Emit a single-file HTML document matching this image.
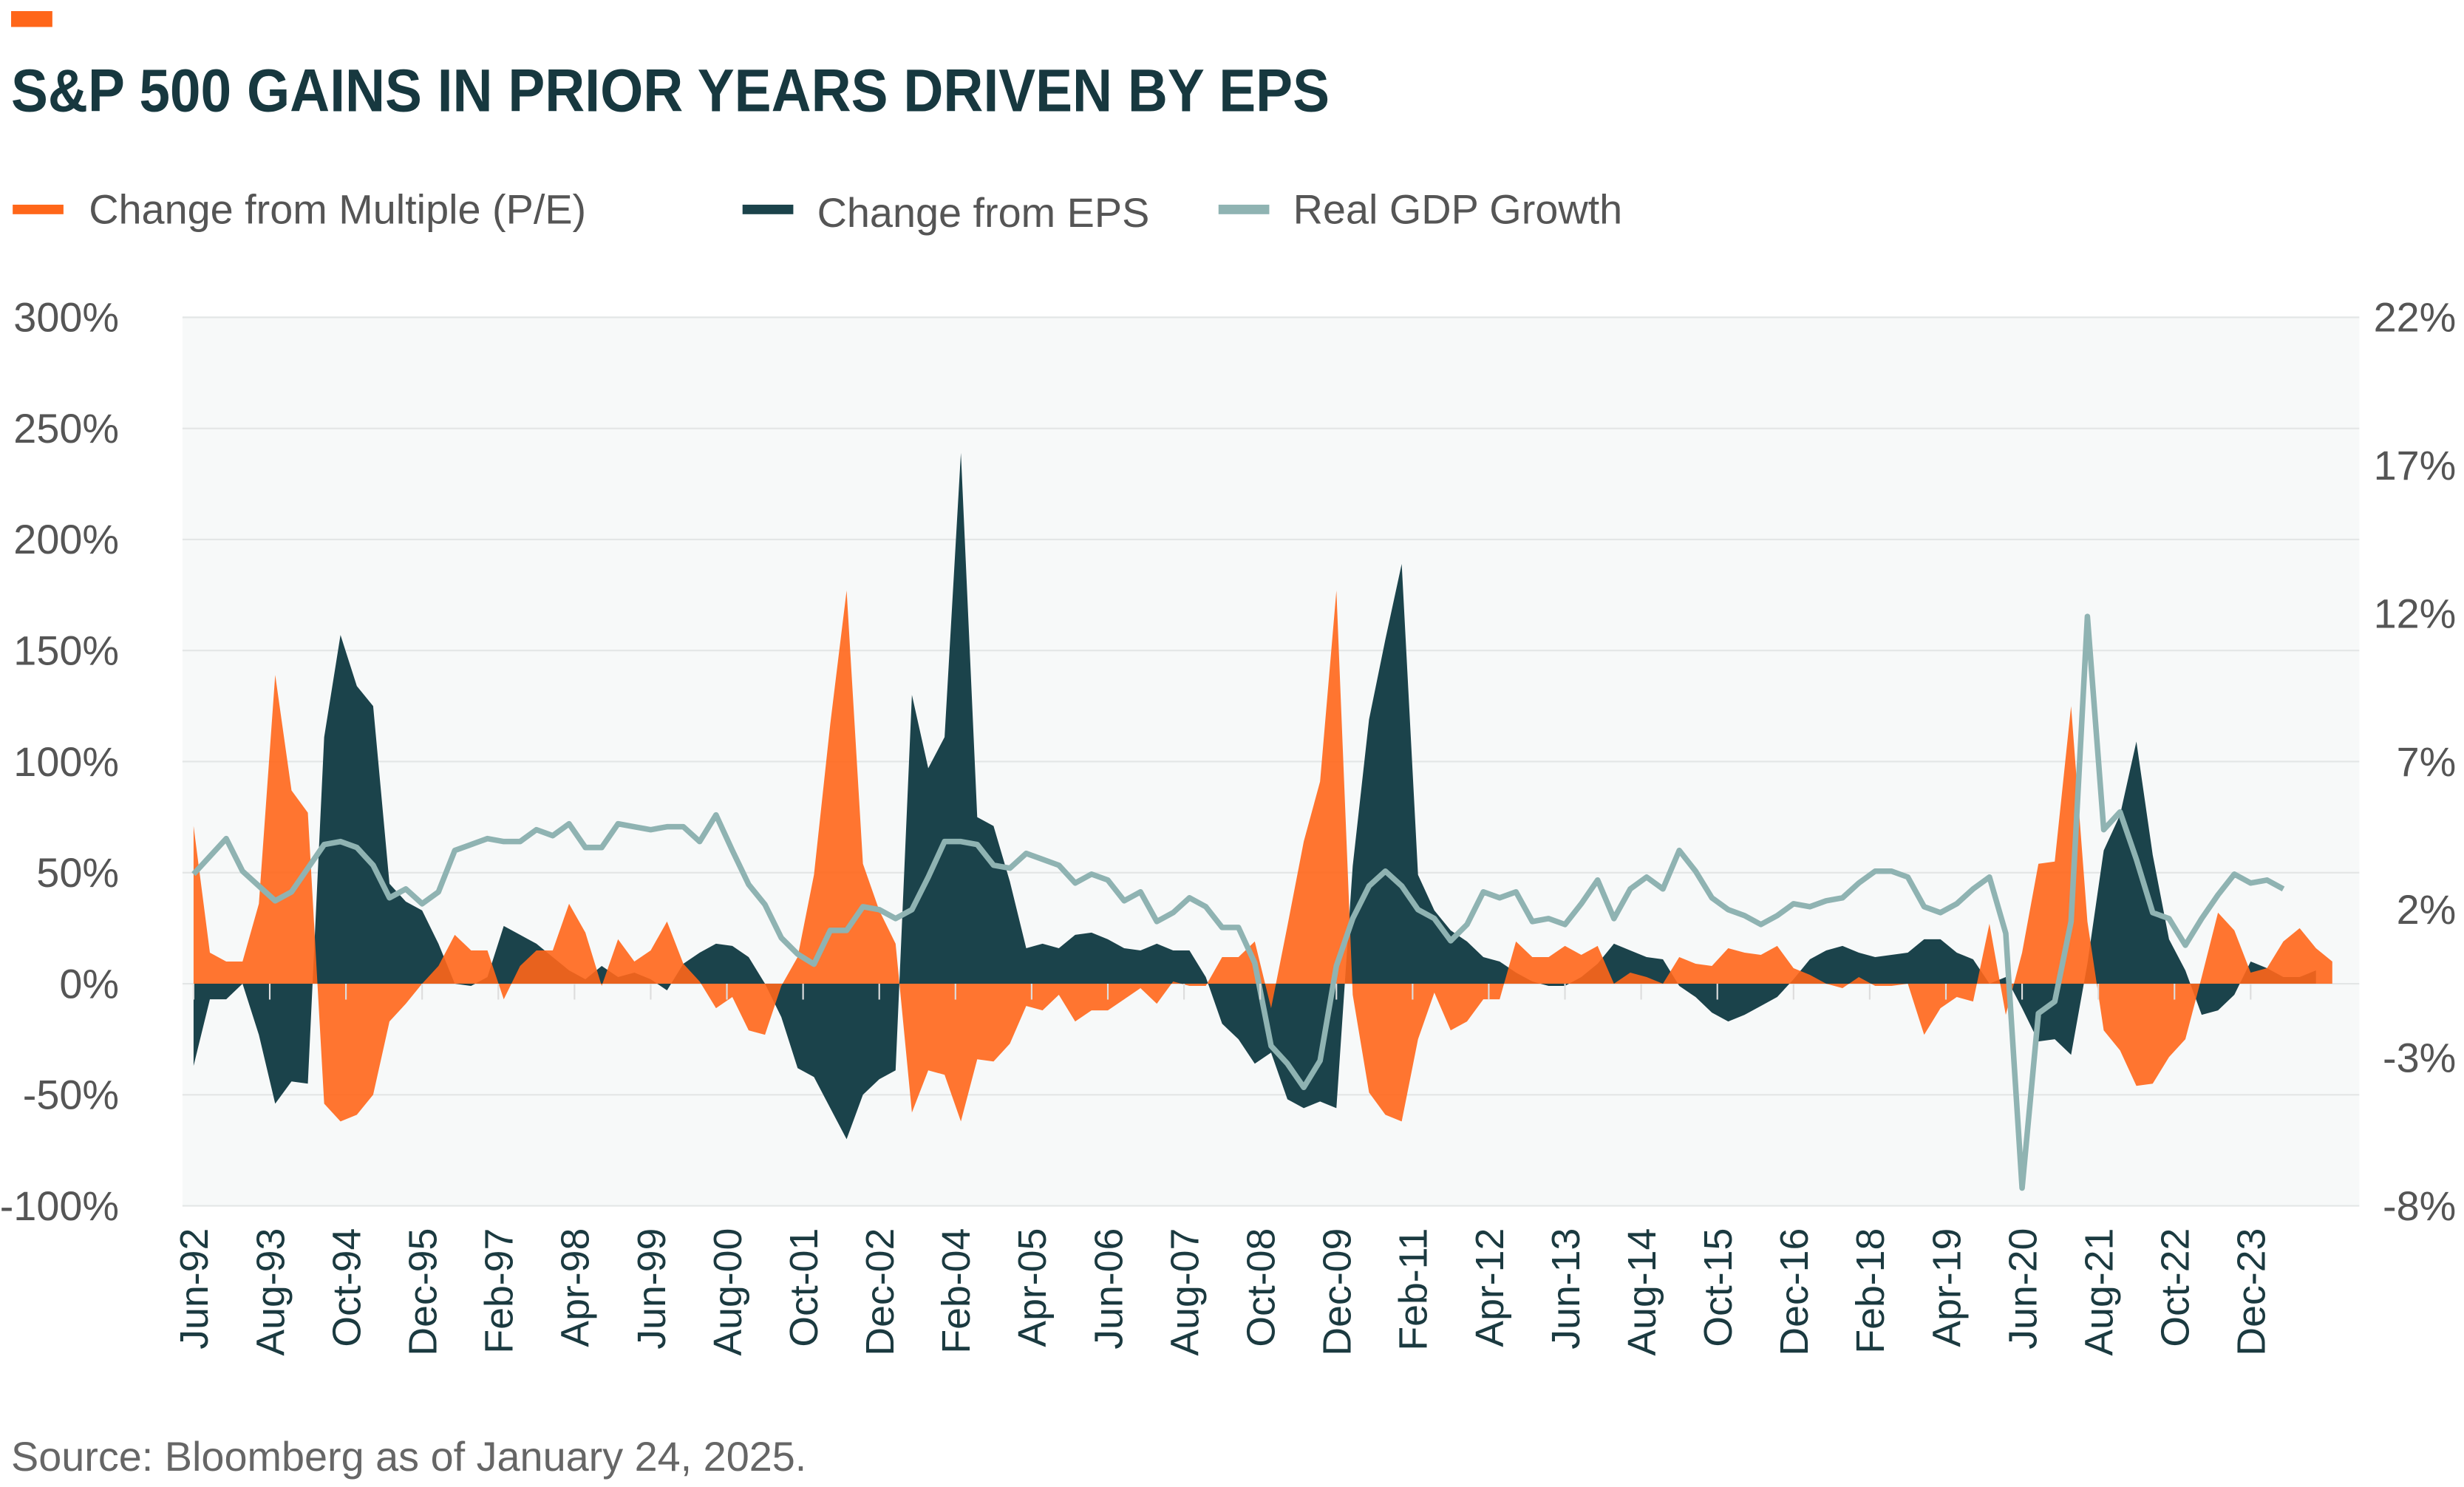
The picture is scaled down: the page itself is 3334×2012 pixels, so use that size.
<!DOCTYPE html>
<html><head><meta charset="utf-8">
<style>
html,body{margin:0;padding:0;background:#fff;}
svg{display:block;}
text{font-family:"Liberation Sans",sans-serif;}
</style></head>
<body>
<svg id="chart" width="3334" height="2012" viewBox="0 0 1553 937.2" xmlns="http://www.w3.org/2000/svg">
  <rect x="7" y="7" width="26" height="10" fill="#ff6619"/>
  <text x="7" y="70" font-size="38" font-weight="bold" fill="#17383f" textLength="831" lengthAdjust="spacingAndGlyphs" style="font-family:'Liberation Sans Narrow','Liberation Sans',sans-serif">S&amp;P 500 GAINS IN PRIOR YEARS DRIVEN BY EPS</text>
  <g>
    <g>
      <rect x="8" y="129" width="32" height="6" fill="#ff6619"/>
      <text x="56" y="141" font-size="26" fill="#555">Change from Multiple (P/E)</text>
    </g>
    <g>
      <rect x="468" y="129" width="32" height="6" fill="#1b434b"/>
      <text x="515" y="143" font-size="26" fill="#555">Change from EPS</text>
    </g>
    <g>
      <rect x="768" y="129" width="32" height="6" fill="#8fb3b2"/>
      <text x="815" y="141" font-size="26" fill="#555">Real GDP Growth</text>
    </g>
  </g>
  <rect x="115" y="200" width="1372" height="560" fill="#f7f9f9"/>
  <g id="grid"></g>
  <g id="yl"></g>
  <g id="yr"></g>
  <g id="series"></g>
  <g id="xl"></g>
  <text x="7" y="937" font-size="26" fill="#666" transform="translate(0,-10)">Source: Bloomberg as of January 24, 2025.</text>
</svg>
<script>
const peChange = [71,14,10,10,36,139,87,77,-54,-62,-59,-50,-17,-9,0,8,22,15,15,-7,8,15,15,36,23,-1,20,10,15,28,9,1,-11,-6,-21,-23,-1,12,49,117,177,54,33,18,-58,-39,-41,-62,-34,-35,-27,-10,-12,-5,-17,-12,-12,-7,-2,-9,1,-1,-1,12,12,19,-11,26,64,91,177,-5,-49,-59,-62,-25,-4,-21,-17,-7,-7,19,12,12,17,13,17,0,5,3,0,12,9,8,16,14,13,17,7,4,0,-2,3,-1,-1,0,-23,-11,-6,-8,27,-14,14,54,55,125,28,-21,-30,-46,-45,-33,-25,3,32,24,5,7,19,25,16,10];
const epsChange = [-37,-7,-7,0,-23,-54,-44,-45,111,157,134,125,45,37,33,18,0,-1,3,26,22,18,12,6,2,8,3,5,2,-3,9,14,18,17,12,0,-15,-38,-42,-56,-70,-50,-43,-39,130,97,111,239,75,71,46,16,18,16,22,23,20,16,15,18,15,15,3,-18,-25,-36,-31,-52,-56,-53,-56,53,119,155,189,49,33,24,19,12,10,5,1,-1,-1,3,9,18,15,12,11,-1,-6,-13,-17,-14,-10,-6,2,11,15,17,14,12,13,14,20,20,14,11,0,3,-11,-26,-25,-32,9,60,76,109,58,20,6,-14,-12,-5,10,7,3,3,6];
const gdpGrowth = [3.2,3.8,4.4,3.3,2.8,2.3,2.6,3.4,4.2,4.3,4.1,3.5,2.4,2.7,2.2,2.6,4.0,4.2,4.4,4.3,4.3,4.7,4.5,4.9,4.1,4.1,4.9,4.8,4.7,4.8,4.8,4.3,5.2,4.0,2.85,2.17,1.05,0.5,0.16,1.3,1.3,2.1,2.0,1.7,2.0,3.1,4.3,4.3,4.2,3.5,3.4,3.9,3.7,3.5,2.9,3.2,3.0,2.3,2.6,1.6,1.9,2.4,2.1,1.4,1.4,0.2,-2.6,-3.2,-4.0,-3.1,0.1,1.7,2.8,3.3,2.8,2.0,1.7,0.95,1.5,2.6,2.4,2.6,1.6,1.7,1.5,2.2,3.0,1.7,2.7,3.1,2.7,4.0,3.3,2.4,2.0,1.8,1.5,1.8,2.2,2.1,2.3,2.4,2.9,3.3,3.3,3.1,2.1,1.9,2.2,2.7,3.1,1.2,-7.4,-1.5,-1.1,1.6,11.9,4.7,5.3,3.7,1.9,1.7,0.8,1.7,2.5,3.2,2.9,3.0,2.7];
const xLabels = ["Jun-92","Aug-93","Oct-94","Dec-95","Feb-97","Apr-98","Jun-99","Aug-00","Oct-01","Dec-02","Feb-04","Apr-05","Jun-06","Aug-07","Oct-08","Dec-09","Feb-11","Apr-12","Jun-13","Aug-14","Oct-15","Dec-16","Feb-18","Apr-19","Jun-20","Aug-21","Oct-22","Dec-23"];
const leftTicks = [300,250,200,150,100,50,0,-50,-100];
const rightTicks = [22,17,12,7,2,-3,-8];

const NS = "http://www.w3.org/2000/svg";
const X0 = 122, DX = 10.29;
function xPos(i){ return X0 + DX*i; }
function yL(v){ return 620 - v*1.4; }
function yR(g){ return 200 + (22-g)*(560/30); }
function mk(tag, attrs, parent){ const e=document.createElementNS(NS,tag); for(const k in attrs) e.setAttribute(k,attrs[k]); parent.appendChild(e); return e; }

const grid=document.getElementById('grid'), yl=document.getElementById('yl'), yr=document.getElementById('yr'), series=document.getElementById('series'), xl=document.getElementById('xl');

leftTicks.forEach(v=>{
  const l=mk('line',{x1:115,x2:1487,y1:yL(v),y2:yL(v),stroke:'#e3e6e6','stroke-width':1},grid);
  
  
  const t=mk('text',{x:75,y:yL(v)+9,'text-anchor':'end','font-size':26,fill:'#555'},yl);
  t.textContent=v+'%';
  
  
});
rightTicks.forEach(g=>{
  const t=mk('text',{x:1548,y:yR(g)+9,'text-anchor':'end','font-size':26,fill:'#555'},yr);
  t.textContent=g+'%';
  
  
});

function areaPath(vals){
  let d='M'+xPos(0)+','+yL(0);
  vals.forEach((v,i)=>{ d+=' L'+xPos(i).toFixed(2)+','+yL(v).toFixed(2); });
  d+=' L'+xPos(vals.length-1).toFixed(2)+','+yL(0)+' Z';
  return d;
}
const epsArea=mk('path',{d:areaPath(epsChange),fill:'#1b434b'},series);


const peArea=mk('path',{d:areaPath(peChange),fill:'#ff6619','fill-opacity':0.9},series);


const gdpLine=mk('polyline',{points:gdpGrowth.map((g,i)=>xPos(i).toFixed(2)+','+yR(g).toFixed(2)).join(' '),fill:'none',stroke:'#8fb3b2','stroke-width':3.5,'stroke-linejoin':'round'},series);



xLabels.forEach((lab,k)=>{
  const x=xPos(k*14/3);
  const tk=mk('line',{x1:x,x2:x,y1:620,y2:630,stroke:'#ddd','stroke-width':1},xl);
  
  
  const t=mk('text',{x:0,y:0,'text-anchor':'end','font-size':25,fill:'#1b3a40',transform:'translate('+(x+9)+',774) rotate(-90)'},xl);
  t.textContent=lab;
  
  
});
</script>
</body></html>
